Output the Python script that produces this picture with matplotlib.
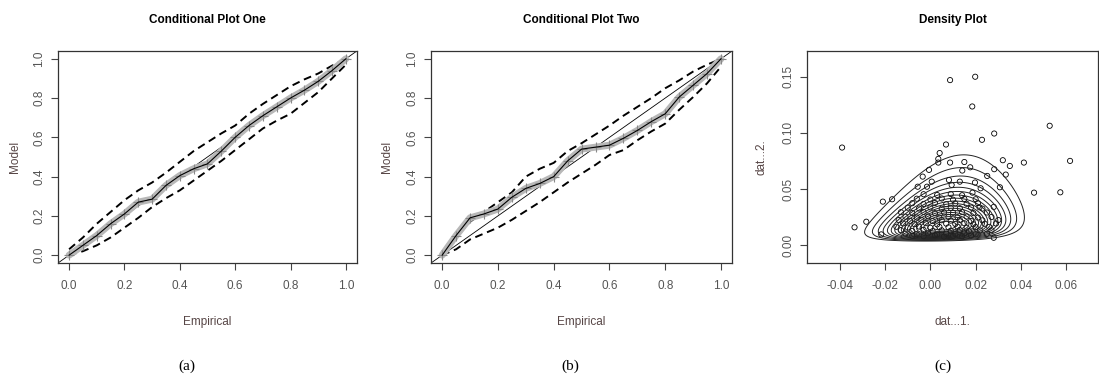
import numpy as np
import matplotlib
matplotlib.use("Agg")
import matplotlib.pyplot as plt

plt.rcParams["font.family"] = ["Liberation Sans", "DejaVu Sans"]

# Panel (a): empirical vs model, centre curve and dashed bounds
emp_a = [0.0, 0.05, 0.1, 0.15, 0.2, 0.25, 0.3, 0.35, 0.4, 0.45, 0.5, 0.55,
         0.6, 0.65, 0.7, 0.75, 0.8, 0.85, 0.9, 0.95, 1.0]
mod_a = [0.0, 0.05, 0.10, 0.16, 0.21, 0.27, 0.285, 0.355, 0.405, 0.44, 0.465, 0.53,
         0.60, 0.66, 0.71, 0.755, 0.80, 0.84, 0.885, 0.94, 1.0]
up_a = [0.03, 0.09, 0.16, 0.22, 0.28, 0.33, 0.37, 0.42, 0.475, 0.53, 0.575, 0.62,
        0.66, 0.72, 0.77, 0.815, 0.86, 0.895, 0.925, 0.965, 1.0]
lo_a = [0.0, 0.02, 0.05, 0.09, 0.14, 0.19, 0.245, 0.29, 0.33, 0.38, 0.43, 0.48,
        0.535, 0.59, 0.645, 0.685, 0.72, 0.775, 0.83, 0.9, 0.97]

# Panel (b)
emp_b = [0.0, 0.05, 0.1, 0.15, 0.2, 0.25, 0.3, 0.35, 0.4, 0.45, 0.5, 0.55,
         0.6, 0.65, 0.7, 0.75, 0.8, 0.85, 0.9, 0.95, 1.0]
mod_b = [0.0, 0.10, 0.19, 0.21, 0.235, 0.295, 0.34, 0.365, 0.40, 0.48, 0.54, 0.55,
         0.56, 0.595, 0.635, 0.68, 0.72, 0.805, 0.865, 0.925, 1.0]
up_b = [0.02, 0.09, 0.17, 0.22, 0.27, 0.32, 0.40, 0.44, 0.47, 0.53, 0.57, 0.615,
        0.66, 0.71, 0.755, 0.80, 0.85, 0.89, 0.935, 0.97, 1.0]
lo_b = [0.0, 0.03, 0.08, 0.11, 0.14, 0.18, 0.225, 0.27, 0.32, 0.37, 0.415, 0.46,
        0.51, 0.535, 0.585, 0.63, 0.67, 0.74, 0.805, 0.875, 0.96]

# Panel (c): scattered outer points
outer_1 = [-0.039, -0.0335, -0.0283, -0.021, -0.0169, -0.0217, 0.0087, 0.0198, 0.0185,
           0.0282, 0.0228, 0.0069, 0.0527, 0.0617, 0.0574, 0.0458, 0.0413, 0.0351,
           0.032, 0.0333, 0.0282, 0.0251, 0.0307, 0.030, 0.028, 0.028, 0.0217,
           0.0041, 0.0035, 0.0035, 0.0087, 0.015, 0.0176, 0.0141, -0.0006, -0.0034,
           -0.0056, -0.0015, 0.0006, 0.0082, 0.013, 0.0197, 0.0222, 0.0186, 0.0094]
outer_2 = [0.0869, 0.0158, 0.0208, 0.0387, 0.0408, 0.0095, 0.147, 0.150, 0.1235,
           0.0994, 0.0938, 0.0896, 0.1063, 0.075, 0.047, 0.0467, 0.0735, 0.0705,
           0.0756, 0.0628, 0.0676, 0.0616, 0.0515, 0.0223, 0.034, 0.0065, 0.0336,
           0.082, 0.0768, 0.0735, 0.0735, 0.074, 0.0693, 0.0664, 0.067, 0.061,
           0.052, 0.052, 0.0565, 0.058, 0.0565, 0.0557, 0.0506, 0.0467, 0.0536]

# Panel (c): overplotted central cluster
core_1 = [-0.008, -0.003, 0.002, 0.006, 0.010, 0.014, 0.018,
          -0.011, -0.006, -0.001, 0.003, 0.007, 0.011, 0.015, 0.020, 0.025,
          -0.013, -0.008, -0.003, 0.001, 0.005, 0.009, 0.013, 0.017, 0.022, 0.027,
          -0.015, -0.010, -0.005, 0.000, 0.004, 0.008, 0.012, 0.016, 0.020, 0.026,
          -0.012, -0.007, -0.002, 0.003, 0.007, 0.011, 0.015, 0.019, 0.024, 0.029,
          -0.014, -0.009, -0.004, 0.001, 0.005, 0.009, 0.013, 0.018, 0.023,
          -0.011, -0.006, -0.001, 0.004, 0.008, 0.012, 0.016, 0.021, 0.027,
          -0.013, -0.008, -0.003, 0.002, 0.006, 0.010, 0.014, 0.019, 0.025,
          -0.010, -0.005, 0.000, 0.005, 0.009, 0.013, 0.018, 0.023,
          -0.008, -0.003, 0.002, 0.007, 0.011, 0.016, 0.021,
          -0.006, 0.000, 0.005, 0.010, 0.015, 0.020,
          -0.003, 0.003, 0.009, 0.014]
core_2 = [0.0083, 0.0078, 0.0086, 0.0075, 0.0081, 0.0079, 0.0084,
          0.0102, 0.0097, 0.0105, 0.0094, 0.0101, 0.0098, 0.0104, 0.0096, 0.0100,
          0.0133, 0.0126, 0.0135, 0.0124, 0.0131, 0.0128, 0.0134, 0.0125, 0.0130, 0.0132,
          0.0163, 0.0156, 0.0165, 0.0154, 0.0161, 0.0158, 0.0164, 0.0155, 0.0160, 0.0162,
          0.0193, 0.0186, 0.0195, 0.0184, 0.0191, 0.0188, 0.0194, 0.0185, 0.0190, 0.0192,
          0.0223, 0.0216, 0.0225, 0.0214, 0.0221, 0.0218, 0.0224, 0.0215, 0.0220,
          0.0253, 0.0246, 0.0255, 0.0244, 0.0251, 0.0248, 0.0254, 0.0245, 0.0250,
          0.0293, 0.0286, 0.0295, 0.0284, 0.0291, 0.0288, 0.0294, 0.0285, 0.0290,
          0.0333, 0.0326, 0.0335, 0.0324, 0.0331, 0.0328, 0.0334, 0.0325,
          0.0373, 0.0366, 0.0375, 0.0364, 0.0371, 0.0368, 0.0374,
          0.0413, 0.0406, 0.0415, 0.0404, 0.0411, 0.0408,
          0.0453, 0.0446, 0.0455, 0.0444]

TICK_COLOR = "#555555"
LABEL_COLOR = "#574646"


def style_axes(ax):
    for s in ax.spines.values():
        s.set_color("#333333")
        s.set_linewidth(0.9)
    ax.tick_params(axis="both", length=5, width=0.8, color="#444444",
                   labelcolor=TICK_COLOR, labelsize=8.5)
    ax.tick_params(axis="x", pad=7)
    ax.tick_params(axis="y", pad=4)
    for lab in ax.get_yticklabels():
        lab.set_rotation(90)
        lab.set_va("center")


def qq_panel(ax, emp, mod, up, lo, title):
    ax.axline((0, 0), (1, 1), color="black", lw=0.6)
    ax.plot(emp, up, color="black", lw=1.4, dashes=(4, 2.5))
    ax.plot(emp, lo, color="black", lw=1.4, dashes=(4, 2.5))
    ax.plot(emp, mod, color="#b8b8b8", lw=5, solid_capstyle="round")
    ax.plot(emp, mod, linestyle="none", marker="+", ms=7, mew=0.8, color="#8a8a8a")
    ax.plot(emp, mod, color="black", lw=0.8)
    ax.set_xlim(-0.04, 1.04)
    ax.set_ylim(-0.04, 1.04)
    ax.set_xticks([0.0, 0.2, 0.4, 0.6, 0.8, 1.0])
    ax.set_yticks([0.0, 0.2, 0.4, 0.6, 0.8, 1.0])
    ax.set_xticklabels(["0.0", "0.2", "0.4", "0.6", "0.8", "1.0"])
    ax.set_yticklabels(["0.0", "0.2", "0.4", "0.6", "0.8", "1.0"])
    ax.set_title(title, fontsize=8.5, fontweight="bold", pad=20)
    ax.set_xlabel("Empirical", fontsize=8.5, color=LABEL_COLOR)
    ax.set_ylabel("Model", fontsize=8.5, color=LABEL_COLOR)
    ax.xaxis.set_label_coords(0.5, -0.25)
    ax.yaxis.set_label_coords(-0.125, 0.5)
    style_axes(ax)


fig = plt.figure(figsize=(10.99, 3.87), dpi=100)
ax1 = fig.add_axes([0.0528, 0.3204, 0.272, 0.548])
ax2 = fig.add_axes([0.3922, 0.3204, 0.274, 0.548])
ax3 = fig.add_axes([0.7343, 0.3204, 0.2647, 0.548])

qq_panel(ax1, emp_a, mod_a, up_a, lo_a, "Conditional Plot One")
qq_panel(ax2, emp_b, mod_b, up_b, lo_b, "Conditional Plot Two")

# Density: bivariate normal fitted to (dat_1, log dat_2), shown as a density of dat_2
x = np.array(outer_1 + core_1)
y = np.array(outer_2 + core_2)
data = np.vstack([x, np.log(y)])
mu = data.mean(axis=1)
cov = np.cov(data)
inv = np.linalg.inv(cov)
gx = np.linspace(-0.06, 0.08, 300)
gy = np.linspace(0.001, 0.18, 300)
GX, GY = np.meshgrid(gx, gy)
d0 = GX - mu[0]
d1 = np.log(GY) - mu[1]
q = inv[0, 0] * d0 ** 2 + 2 * inv[0, 1] * d0 * d1 + inv[1, 1] * d1 ** 2
dens = np.exp(-0.5 * q) / GY
levels = np.linspace(0.09, 0.95, 18) * dens.max()
ax3.contour(GX, GY, dens, levels=levels, colors="#222222", linewidths=0.7)
ax3.scatter(x, y, s=14, facecolors="none", edgecolors="black", linewidths=0.6)
ax3.set_xlim(-0.0545, 0.074)
ax3.set_ylim(-0.016, 0.173)
ax3.set_xticks([-0.04, -0.02, 0.0, 0.02, 0.04, 0.06])
ax3.set_xticklabels(["-0.04", "-0.02", "0.00", "0.02", "0.04", "0.06"])
ax3.set_yticks([0.0, 0.05, 0.10, 0.15])
ax3.set_yticklabels(["0.00", "0.05", "0.10", "0.15"])
ax3.set_title("Density Plot", fontsize=8.5, fontweight="bold", pad=20)
ax3.set_xlabel("dat...1.", fontsize=8.5, color=LABEL_COLOR)
ax3.set_ylabel("dat...2.", fontsize=8.5, color=LABEL_COLOR)
ax3.xaxis.set_label_coords(0.5, -0.25)
ax3.yaxis.set_label_coords(-0.135, 0.5)
style_axes(ax3)

for xp, cap in [(0.170, "(a)"), (0.519, "(b)"), (0.858, "(c)")]:
    fig.text(xp, 0.054, cap, fontsize=11, family=["Liberation Serif", "DejaVu Serif"],
             ha="center", va="center")

fig.savefig("out.png", dpi=100)
